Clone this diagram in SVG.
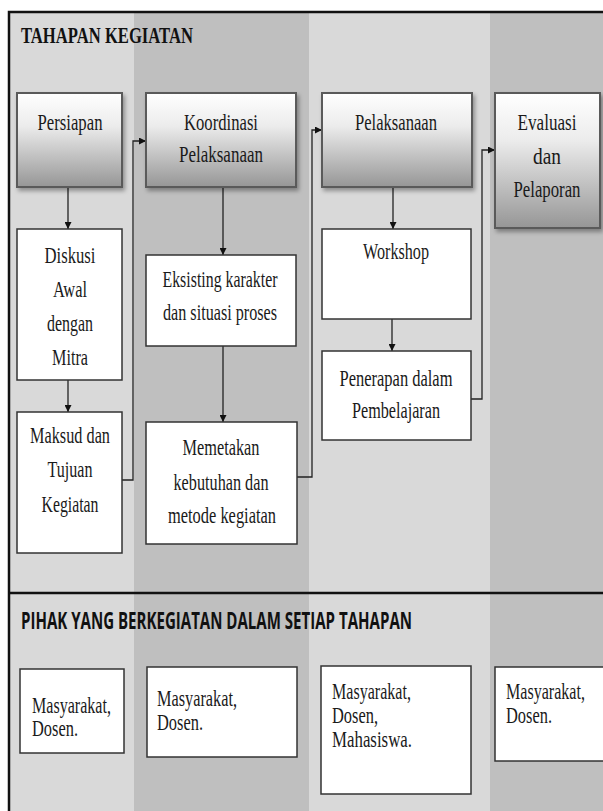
<svg xmlns="http://www.w3.org/2000/svg" width="603" height="811" viewBox="0 0 603 811">
<style>
.t{font-family:"Liberation Serif","Times New Roman",serif;font-size:23px;fill:#1a1a1a;text-anchor:middle}
.l{font-family:"Liberation Serif","Times New Roman",serif;font-size:23px;fill:#1a1a1a}
.hh{font-family:"Liberation Serif","Times New Roman",serif;font-size:23px;font-weight:bold;fill:#111}
.h2{font-family:"Open Sans","Liberation Sans",sans-serif;font-size:23px;font-weight:bold;fill:#111}
.g{fill:url(#grad);stroke:#5a5a5a;stroke-width:2;filter:url(#sh)}
.w{fill:#fff;stroke:#333;stroke-width:1.5}
.c{fill:none;stroke:#222;stroke-width:1.3}
</style>
<defs>
<linearGradient id="grad" x1="0" y1="0" x2="0" y2="1">
<stop offset="0" stop-color="#ffffff"/>
<stop offset="0.35" stop-color="#ececec"/>
<stop offset="1" stop-color="#969696"/>
</linearGradient>
<filter id="sh" x="-10%" y="-10%" width="130%" height="130%">
<feDropShadow dx="2" dy="3" stdDeviation="2" flood-color="#000" flood-opacity="0.35"/>
</filter>
<marker id="ar" viewBox="0 0 10 10" refX="10" refY="5" markerWidth="7" markerHeight="7" markerUnits="userSpaceOnUse" orient="auto">
<path d="M0,0 L10,5 L0,10 Z" fill="#111"/>
</marker>
</defs>

<!-- background columns -->
<rect x="0" y="0" width="603" height="811" fill="#fff"/>
<rect x="9" y="12" width="125" height="799" fill="#d9d9d9"/>
<rect x="134" y="12" width="175" height="799" fill="#bfbfbf"/>
<rect x="309" y="12" width="181" height="799" fill="#d9d9d9"/>
<rect x="490" y="12" width="113" height="799" fill="#bfbfbf"/>
<rect x="9" y="12" width="620" height="820" fill="none" stroke="#111" stroke-width="2.5"/>
<line x1="9" y1="593" x2="603" y2="593" stroke="#111" stroke-width="2.5"/>

<text class="hh" x="21" y="43" textLength="172" lengthAdjust="spacingAndGlyphs" font-family="Liberation Serif, serif">TAHAPAN KEGIATAN</text>
<text class="h2" x="21" y="629" textLength="391" lengthAdjust="spacingAndGlyphs">PIHAK YANG BERKEGIATAN DALAM SETIAP TAHAPAN</text>

<!-- connectors -->
<g id="connectors">
<path class="c" d="M68,187 V229" marker-end="url(#ar)"/>
<path class="c" d="M68,380 V412" marker-end="url(#ar)"/>
<path class="c" d="M122,480 H133 V141 H146" marker-end="url(#ar)"/>
<path class="c" d="M223,187 V255" marker-end="url(#ar)"/>
<path class="c" d="M223,346 V422" marker-end="url(#ar)"/>
<path class="c" d="M297,477 H312 V130 H322" marker-end="url(#ar)"/>
<path class="c" d="M393,187 V229" marker-end="url(#ar)"/>
<path class="c" d="M392,319 V351" marker-end="url(#ar)"/>
<path class="c" d="M471,399 H482 V150 H495" marker-end="url(#ar)"/>
</g>

<!-- stage nodes -->
<g id="persiapan">
<rect class="g" x="17" y="93" width="105" height="94"/>
<text class="t" x="70" y="130" textLength="65" lengthAdjust="spacingAndGlyphs">Persiapan</text>
</g>
<g id="koordinasi">
<rect class="g" x="146" y="93" width="150" height="94"/>
<text class="t" x="221" y="130" textLength="74" lengthAdjust="spacingAndGlyphs">Koordinasi</text>
<text class="t" x="221" y="162" textLength="84" lengthAdjust="spacingAndGlyphs">Pelaksanaan</text>
</g>
<g id="pelaksanaan">
<rect class="g" x="322" y="93" width="150" height="94"/>
<text class="t" x="396" y="130" textLength="82" lengthAdjust="spacingAndGlyphs">Pelaksanaan</text>
</g>
<g id="evaluasi">
<rect class="g" x="495" y="93" width="105" height="135"/>
<text class="t" x="547" y="130" textLength="59" lengthAdjust="spacingAndGlyphs">Evaluasi</text>
<text class="t" x="547" y="164" textLength="28" lengthAdjust="spacingAndGlyphs">dan</text>
<text class="t" x="547" y="197" textLength="67" lengthAdjust="spacingAndGlyphs">Pelaporan</text>
</g>

<!-- activity nodes -->
<g id="diskusi">
<rect class="w" x="17" y="229" width="105" height="151"/>
<text class="t" x="70" y="263" textLength="51" lengthAdjust="spacingAndGlyphs">Diskusi</text>
<text class="t" x="70" y="297" textLength="34" lengthAdjust="spacingAndGlyphs">Awal</text>
<text class="t" x="70" y="331" textLength="46" lengthAdjust="spacingAndGlyphs">dengan</text>
<text class="t" x="70" y="365" textLength="36" lengthAdjust="spacingAndGlyphs">Mitra</text>
</g>
<g id="maksud">
<rect class="w" x="17" y="412" width="105" height="141"/>
<text class="t" x="70" y="443" textLength="80" lengthAdjust="spacingAndGlyphs">Maksud dan</text>
<text class="t" x="70" y="477" textLength="45" lengthAdjust="spacingAndGlyphs">Tujuan</text>
<text class="t" x="70" y="512" textLength="57" lengthAdjust="spacingAndGlyphs">Kegiatan</text>
</g>
<g id="eksisting">
<rect class="w" x="146" y="255" width="150" height="91"/>
<text class="t" x="220" y="287" textLength="115" lengthAdjust="spacingAndGlyphs">Eksisting karakter</text>
<text class="t" x="220" y="320" textLength="114" lengthAdjust="spacingAndGlyphs">dan situasi proses</text>
</g>
<g id="memetakan">
<rect class="w" x="146" y="422" width="151" height="122"/>
<text class="t" x="221" y="455" textLength="77" lengthAdjust="spacingAndGlyphs">Memetakan</text>
<text class="t" x="221" y="490" textLength="95" lengthAdjust="spacingAndGlyphs">kebutuhan dan</text>
<text class="t" x="222" y="523" textLength="108" lengthAdjust="spacingAndGlyphs">metode kegiatan</text>
</g>
<g id="workshop">
<rect class="w" x="322" y="229" width="149" height="90"/>
<text class="t" x="396" y="259" textLength="66" lengthAdjust="spacingAndGlyphs">Workshop</text>
</g>
<g id="penerapan">
<rect class="w" x="322" y="351" width="149" height="89"/>
<text class="t" x="396" y="386" textLength="113" lengthAdjust="spacingAndGlyphs">Penerapan dalam</text>
<text class="t" x="396" y="418" textLength="88" lengthAdjust="spacingAndGlyphs">Pembelajaran</text>
</g>

<!-- participants -->
<g id="pihak1">
<rect class="w" x="20" y="669" width="104" height="84"/>
<text class="l" x="32" y="713" textLength="79" lengthAdjust="spacingAndGlyphs">Masyarakat,</text>
<text class="l" x="32" y="736" textLength="46" lengthAdjust="spacingAndGlyphs">Dosen.</text>
</g>
<g id="pihak2">
<rect class="w" x="147" y="667" width="150" height="90"/>
<text class="l" x="157" y="706" textLength="80" lengthAdjust="spacingAndGlyphs">Masyarakat,</text>
<text class="l" x="157" y="730" textLength="46" lengthAdjust="spacingAndGlyphs">Dosen.</text>
</g>
<g id="pihak3">
<rect class="w" x="321" y="666" width="150" height="128"/>
<text class="l" x="332" y="699" textLength="79" lengthAdjust="spacingAndGlyphs">Masyarakat,</text>
<text class="l" x="332" y="723" textLength="46" lengthAdjust="spacingAndGlyphs">Dosen,</text>
<text class="l" x="332" y="747" textLength="80" lengthAdjust="spacingAndGlyphs">Mahasiswa.</text>
</g>
<g id="pihak4">
<rect class="w" x="495" y="667" width="120" height="94"/>
<text class="l" x="506" y="699" textLength="79" lengthAdjust="spacingAndGlyphs">Masyarakat,</text>
<text class="l" x="506" y="723" textLength="46" lengthAdjust="spacingAndGlyphs">Dosen.</text>
</g>
</svg>
